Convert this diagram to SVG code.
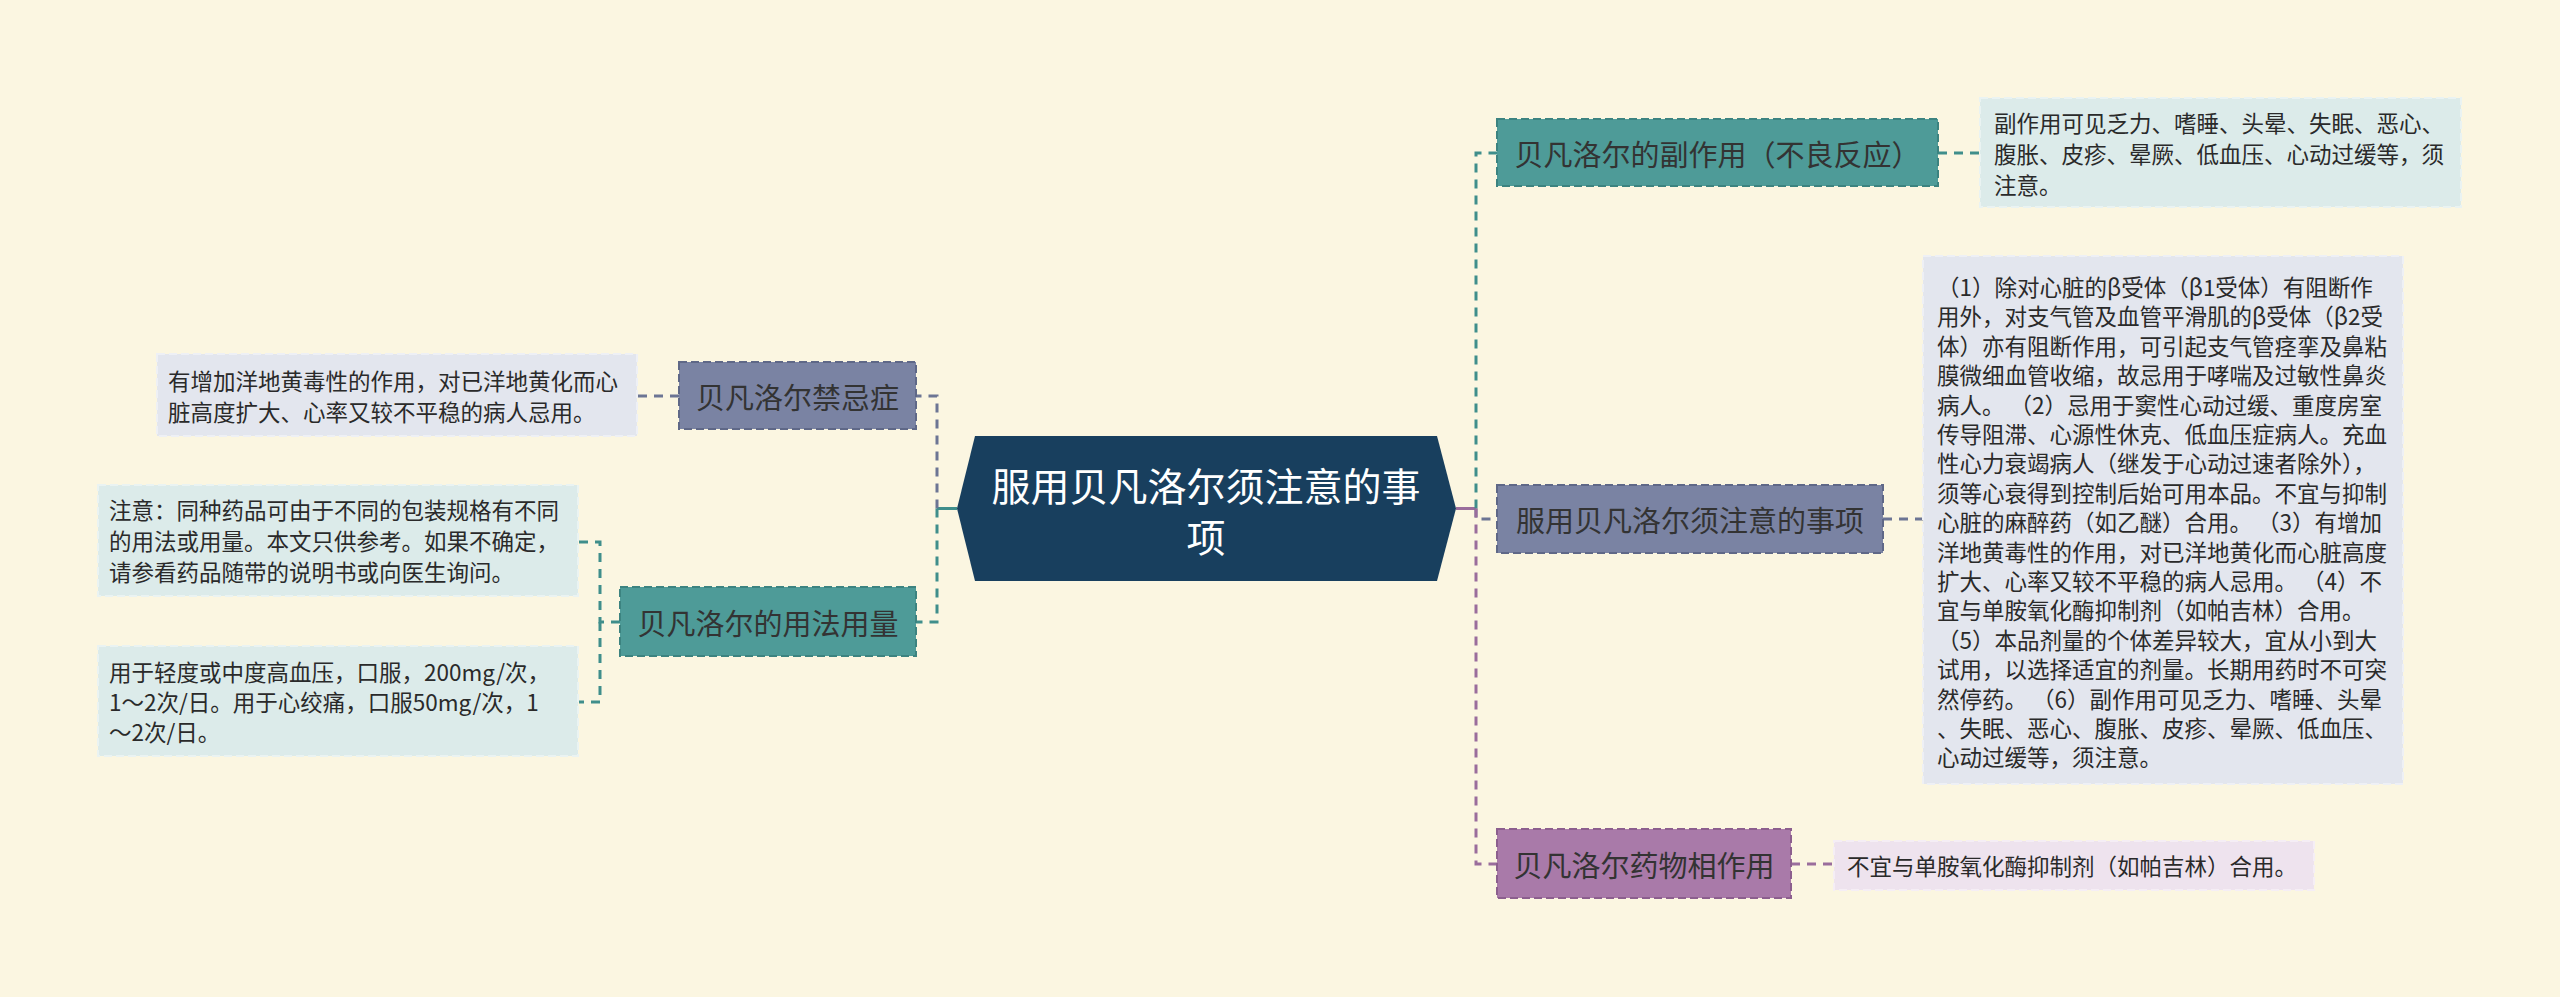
<svg xmlns="http://www.w3.org/2000/svg" width="2560" height="997" viewBox="0 0 2560 997">
<style>
text{font-family:"Noto Sans CJK SC","Noto Sans",sans-serif;dominant-baseline:central}
.ct{font-size:39px;fill:#ffffff;text-anchor:middle}
.nt{font-size:29px;fill:#333333;text-anchor:middle}
.lt{font-size:22.5px;fill:#2a2a2a}
.teal{fill:#4E9B98;stroke:#3C8380;stroke-width:2;stroke-dasharray:8 4}
.slate{fill:#7A83A3;stroke:#5F6887;stroke-width:2;stroke-dasharray:8 4}
.purple{fill:#A97AA9;stroke:#8C5F8E;stroke-width:2;stroke-dasharray:8 4}
.lteal{fill:#DCEBEA;stroke:#EAF3F2;stroke-width:2;stroke-dasharray:8 4}
.lslate{fill:#E3E6EE;stroke:#EEF0F5;stroke-width:2;stroke-dasharray:8 4}
.lpurple{fill:#EEE3EE;stroke:#F5EEF5;stroke-width:2;stroke-dasharray:8 4}
.c{fill:none;stroke-width:3;stroke-dasharray:9 7}
.ct1{stroke:#3F8E8B}
.cs1{stroke:#6C7594}
.cp1{stroke:#9A6D9C}
</style>
<rect x="0" y="0" width="2560" height="997" fill="#FBF6E1"/>
<g id="connectors">
  <path d="M1456 508.5 H1476" stroke="#9A6D9C" stroke-width="3" fill="none"/>
  <path class="c ct1" d="M1476 508.5 V153 H1497"/>
  <path class="c cs1" d="M1476 508.5 V519 H1497"/>
  <path class="c cp1" d="M1476 508.5 V864 H1497"/>
  <path d="M957 508.5 H937" stroke="#3F8E8B" stroke-width="3" fill="none"/>
  <path class="c cs1" d="M937 508.5 V396 H916"/>
  <path class="c ct1" d="M937 508.5 V622 H916"/>
  <path class="c ct1" d="M1938 153 H1980"/>
  <path class="c cs1" d="M1883 519 H1923"/>
  <path class="c cp1" d="M1791 864 H1834"/>
  <path class="c cs1" d="M679 396 H637"/>
  <path class="c ct1" d="M620 622 H600 V542 H579"/>
  <path class="c ct1" d="M600 622 V702 H579"/>
</g>
<g id="central">
  <polygon points="975,436 1437,436 1456,508.5 1437,581 975,581 957,508.5" fill="#183F5E"/>
  <text class="ct" x="1206" y="484">服用贝凡洛尔须注意的事</text>
  <text class="ct" x="1206" y="535">项</text>
</g>
<g id="node-side-effects">
  <rect class="teal" x="1497" y="119" width="441" height="67"/>
  <text class="nt" x="1717.5" y="152.5">贝凡洛尔的副作用（不良反应）</text>
</g>
<g id="leaf-side-effects">
  <rect class="lteal" x="1980" y="98" width="481" height="109"/>
  <text class="lt" x="1994" y="122">副作用可见乏力、嗜睡、头晕、失眠、恶心、</text>
  <text class="lt" x="1994" y="153">腹胀、皮疹、晕厥、低血压、心动过缓等，须</text>
  <text class="lt" x="1994" y="184">注意。</text>
</g>
<g id="node-notes">
  <rect class="slate" x="1497" y="485" width="386" height="68"/>
  <text class="nt" x="1690" y="519">服用贝凡洛尔须注意的事项</text>
</g>
<g id="leaf-notes">
  <rect class="lslate" x="1923" y="256" width="480" height="528"/>
  <text class="lt" x="1937" y="286" xml:space="preserve">（1）除对心脏的β受体（β1受体）有阻断作</text>
  <text class="lt" x="1937" y="315.4">用外，对支气管及血管平滑肌的β受体（β2受</text>
  <text class="lt" x="1937" y="344.8">体）亦有阻断作用，可引起支气管痉挛及鼻粘</text>
  <text class="lt" x="1937" y="374.2">膜微细血管收缩，故忌用于哮喘及过敏性鼻炎</text>
  <text class="lt" x="1937" y="403.6" xml:space="preserve">病人。 （2）忌用于窦性心动过缓、重度房室</text>
  <text class="lt" x="1937" y="433">传导阻滞、心源性休克、低血压症病人。充血</text>
  <text class="lt" x="1937" y="462.4">性心力衰竭病人（继发于心动过速者除外），</text>
  <text class="lt" x="1937" y="491.8">须等心衰得到控制后始可用本品。不宜与抑制</text>
  <text class="lt" x="1937" y="521.2" xml:space="preserve">心脏的麻醉药（如乙醚）合用。 （3）有增加</text>
  <text class="lt" x="1937" y="550.6">洋地黄毒性的作用，对已洋地黄化而心脏高度</text>
  <text class="lt" x="1937" y="580" xml:space="preserve">扩大、心率又较不平稳的病人忌用。 （4）不</text>
  <text class="lt" x="1937" y="609.4">宜与单胺氧化酶抑制剂（如帕吉林）合用。</text>
  <text class="lt" x="1937" y="638.8">（5）本品剂量的个体差异较大，宜从小到大</text>
  <text class="lt" x="1937" y="668.2">试用，以选择适宜的剂量。长期用药时不可突</text>
  <text class="lt" x="1937" y="697.6" xml:space="preserve">然停药。 （6）副作用可见乏力、嗜睡、头晕</text>
  <text class="lt" x="1937" y="727">、失眠、恶心、腹胀、皮疹、晕厥、低血压、</text>
  <text class="lt" x="1937" y="756.4">心动过缓等，须注意。</text>
</g>
<g id="node-interactions">
  <rect class="purple" x="1497" y="829" width="294" height="69"/>
  <text class="nt" x="1644" y="863.5">贝凡洛尔药物相作用</text>
</g>
<g id="leaf-interactions">
  <rect class="lpurple" x="1834" y="841" width="480" height="49"/>
  <text class="lt" x="1847" y="865">不宜与单胺氧化酶抑制剂（如帕吉林）合用。</text>
</g>
<g id="node-contraindications">
  <rect class="slate" x="679" y="362" width="237" height="67"/>
  <text class="nt" x="797.5" y="395.5">贝凡洛尔禁忌症</text>
</g>
<g id="leaf-contraindications">
  <rect class="lslate" x="157" y="354" width="480" height="82"/>
  <text class="lt" x="168" y="380">有增加洋地黄毒性的作用，对已洋地黄化而心</text>
  <text class="lt" x="168" y="411">脏高度扩大、心率又较不平稳的病人忌用。</text>
</g>
<g id="node-dosage">
  <rect class="teal" x="620" y="587" width="296" height="69"/>
  <text class="nt" x="768" y="621.5">贝凡洛尔的用法用量</text>
</g>
<g id="leaf-dosage-note">
  <rect class="lteal" x="98" y="485" width="480" height="111"/>
  <text class="lt" x="109" y="509">注意：同种药品可由于不同的包装规格有不同</text>
  <text class="lt" x="109" y="540">的用法或用量。本文只供参考。如果不确定，</text>
  <text class="lt" x="109" y="571">请参看药品随带的说明书或向医生询问。</text>
</g>
<g id="leaf-dosage">
  <rect class="lteal" x="98" y="646" width="480" height="110"/>
  <text class="lt" x="109" y="671">用于轻度或中度高血压，口服，200mg/次，</text>
  <text class="lt" x="109" y="701">1～2次/日。用于心绞痛，口服50mg/次，1</text>
  <text class="lt" x="109" y="731">～2次/日。</text>
</g>
</svg>
